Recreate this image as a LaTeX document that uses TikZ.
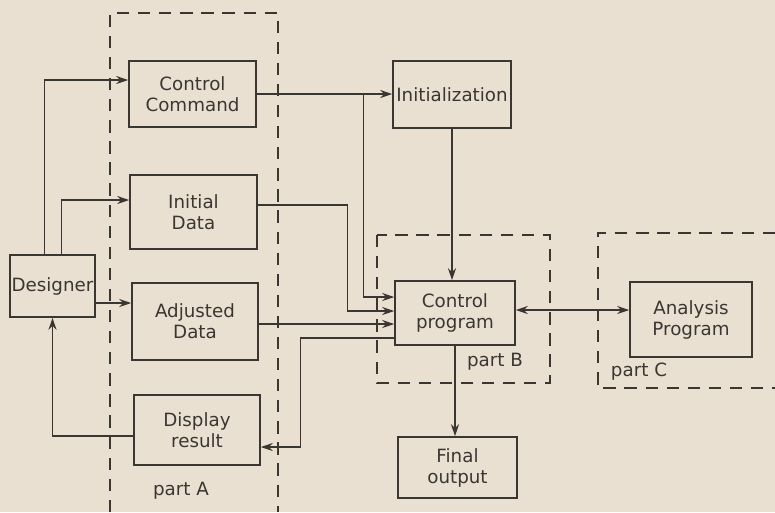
\documentclass[tikz,border=0pt]{standalone}
\usepackage{fontspec}
\setmainfont{DejaVu Sans}
\usetikzlibrary{arrows.meta,calc}
\definecolor{paper}{RGB}{234,224,209}
\definecolor{ink}{RGB}{58,54,50}
\begin{document}
\begin{tikzpicture}[x=0.02cm, y=-0.02cm, every node/.style={font=\fontsize{10.4}{12}\selectfont,text=ink},
  box/.style={draw=ink,line width=0.9pt,align=center,inner sep=1pt},
  partbox/.style={draw=ink,line width=0.9pt,dash pattern=on 7pt off 5pt},
  arr/.style={draw=ink,-{Stealth[length=2.4mm,width=1.6mm]},line width=0.8pt}]
\fill[paper] (0,0) rectangle (775,512);
\useasboundingbox (0,0) rectangle (775,512);
% dashed groups
\draw[partbox] (110,512) -- (110,13) -- (278,13) -- (278,512);
\draw[partbox] (377,235) rectangle (550,383);
\draw[partbox] (775,233) -- (598,233) -- (598,388) -- (775,388);
\node (lblA) at (181,491) {part A};
\node (lblB) at (495,362) {part B};
\node (lblC) at (639,372) {part C};
% boxes
\node[box,minimum width=1.62cm,minimum height=1.24cm] (designer) at (52.5,286) {Designer};
\node[box,minimum width=2.54cm,minimum height=1.32cm] (cmd) at (192.5,94) {Control\\Command};
\node[box,minimum width=2.54cm,minimum height=1.48cm] (initdata) at (193.5,212) {Initial\\Data};
\node[box,minimum width=2.52cm,minimum height=1.54cm] (adjdata) at (195,321.5) {Adjusted\\Data};
\node[box,minimum width=2.52cm,minimum height=1.40cm] (display) at (197,430) {Display\\result};
\node[box,minimum width=2.36cm,minimum height=1.34cm] (initz) at (452,94.5) {Initialization};
\node[box,minimum width=2.40cm,minimum height=1.28cm] (ctrl) at (455,313) {Control\\program};
\node[box,minimum width=2.38cm,minimum height=1.22cm] (final) at (457.5,467.5) {Final\\output};
\node[box,minimum width=2.44cm,minimum height=1.50cm] (analysis) at (691,319.5) {Analysis\\Program};
% designer and part A
\draw[arr] ($(designer.north)+(-8,0)$) |- ($(cmd.west)+(0,-14)$);
\draw[arr] ($(designer.north)+(9,0)$) |- ($(initdata.west)+(0,-12)$);
\coordinate (d1) at ($(designer.east)+(0,17)$);
\draw[arr] (d1) -- (d1 -| adjdata.west);
\draw[arr] ($(display.west)+(0,6)$) -| (designer.south);
% part A and control program
\draw[arr] (cmd.east) -- (cmd.east -| initz.west);
\draw[arr] ($(cmd.east -| initz.west)+(-29,0)$) |- ($(ctrl.west)+(0,-16)$);
\draw[arr] ($(initdata.east)+(0,-7)$) -| ($(ctrl.west)+(-47,-2)$) -- ($(ctrl.west)+(0,-2)$);
\coordinate (c3) at ($(ctrl.west)+(0,11)$);
\draw[arr] (adjdata.east |- c3) -- (c3);
\draw[arr] ($(ctrl.west)+(0,25)$) -| ($(display.east)+(40,17)$) -- ($(display.east)+(0,17)$);
% part B and part C
\draw[arr] (initz.south) -- (initz.south |- ctrl.north);
\draw[arr] (ctrl.south) -- (ctrl.south |- final.north);
\coordinate (c4) at ($(ctrl.east)+(0,-3)$);
\draw[arr,{Stealth[length=2.4mm,width=1.6mm]}-{Stealth[length=2.4mm,width=1.6mm]}] (c4) -- (c4 -| analysis.west);
\end{tikzpicture}
\end{document}
